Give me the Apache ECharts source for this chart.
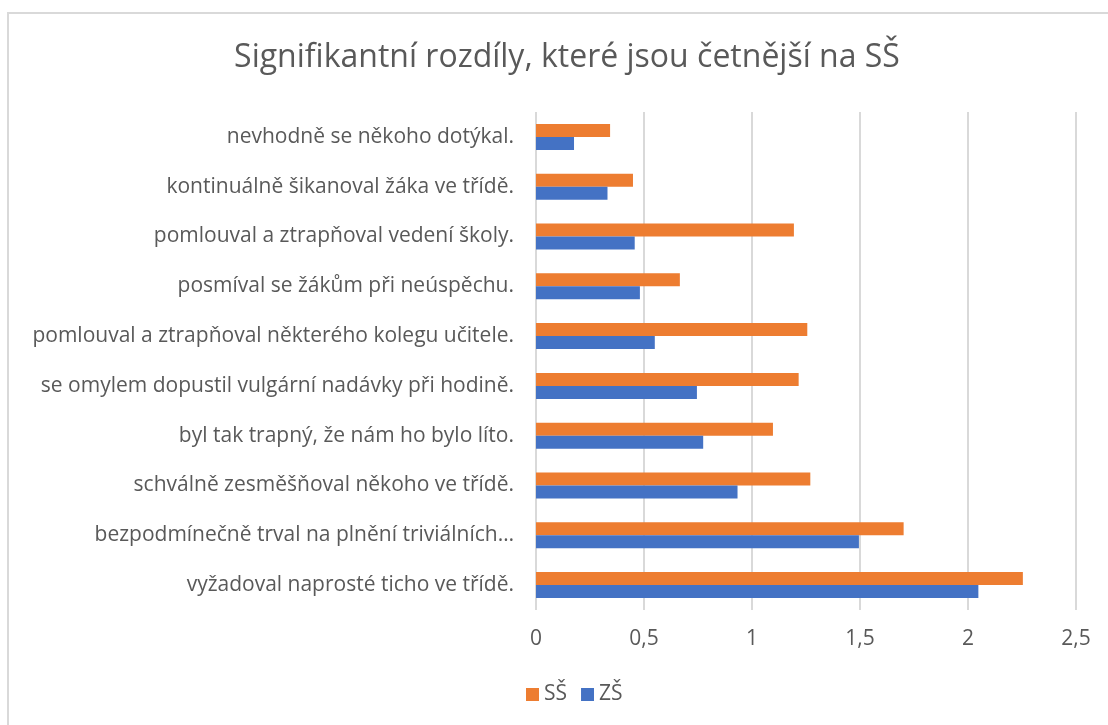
<!DOCTYPE html>
<html>
<head>
<meta charset="utf-8">
<script src="https://cdn.jsdelivr.net/npm/echarts@6/dist/echarts.min.js"></script>
<style>
  html, body { margin: 0; padding: 0; background: #fff; }
  #target { width: 1108px; height: 725px; }
</style>
</head>
<body>
<div id="target"></div>
<script>
// kategorie zdola nahoru (tak je kreslí ECharts)
const categories = [
  "vyžadoval naprosté ticho ve třídě.",
  "bezpodmínečně trval na plnění triviálních…",
  "schválně zesměšňoval někoho ve třídě.",
  "byl tak trapný, že nám ho bylo líto.",
  "se omylem dopustil vulgární nadávky při hodině.",
  "pomlouval a ztrapňoval některého kolegu učitele.",
  "posmíval se žákům při neúspěchu.",
  "pomlouval a ztrapňoval vedení školy.",
  "kontinuálně šikanoval žáka ve třídě.",
  "nevhodně se někoho dotýkal."
];
const ssValues = [2.254, 1.702, 1.270, 1.097, 1.216, 1.256, 0.666, 1.194, 0.449, 0.343];
const zsValues = [2.048, 1.495, 0.933, 0.774, 0.745, 0.550, 0.481, 0.457, 0.331, 0.176];
const xTicks = [0, 0.5, 1, 1.5, 2, 2.5];

const font = "'Open Sans', 'Noto Sans', sans-serif";
const myChart = echarts.init(document.getElementById("target"));

const options = {
  animation: false,
  textStyle: { fontFamily: font },
  title: {
    text: "Signifikantní rozdíly, které jsou četnější na SŠ",
    left: 562,
    top: 37,
    textAlign: "center",
    textStyle: { fontFamily: font, fontSize: 32, fontWeight: "normal", color: "#595959" }
  },
  // rámeček kolem grafu
  graphic: [{
    type: "rect",
    shape: { x: 8, y: 13, width: 1110, height: 720 },
    style: { fill: "none", stroke: "#d9d9d9", lineWidth: 2 },
    silent: true
  }],
  legend: {
    data: ["SŠ", "ZŠ"],
    left: 521,
    top: 679,
    itemWidth: 13,
    itemHeight: 13,
    itemGap: 14,
    icon: "rect",
    textStyle: { fontFamily: font, fontSize: 21, color: "#595959" }
  },
  grid: { left: 536, right: 32, top: 112, bottom: 115, containLabel: false },
  xAxis: {
    type: "value",
    min: 0,
    max: 2.5,
    interval: 0.5,
    axisLine: { show: false },
    axisTick: { show: false },
    splitLine: { lineStyle: { color: "#d9d9d9", width: 2 } },
    axisLabel: {
      fontFamily: font,
      fontSize: 21,
      color: "#595959",
      margin: 19,
      formatter: v => xTicks.includes(v) ? String(v).replace(".", ",") : ""
    }
  },
  yAxis: {
    type: "category",
    data: categories,
    axisLine: { show: false },
    axisTick: { show: false },
    axisLabel: { fontFamily: font, fontSize: 21, color: "#595959", margin: 22 }
  },
  series: [
    {
      name: "SŠ",
      type: "bar",
      data: ssValues,
      barWidth: 13,
      barGap: "0%",
      itemStyle: { color: "#ed7d31" }
    },
    {
      name: "ZŠ",
      type: "bar",
      data: zsValues,
      barWidth: 13,
      barGap: "0%",
      itemStyle: { color: "#4472c4" }
    }
  ]
};
myChart.setOption(options);
</script>
</body>
</html>
